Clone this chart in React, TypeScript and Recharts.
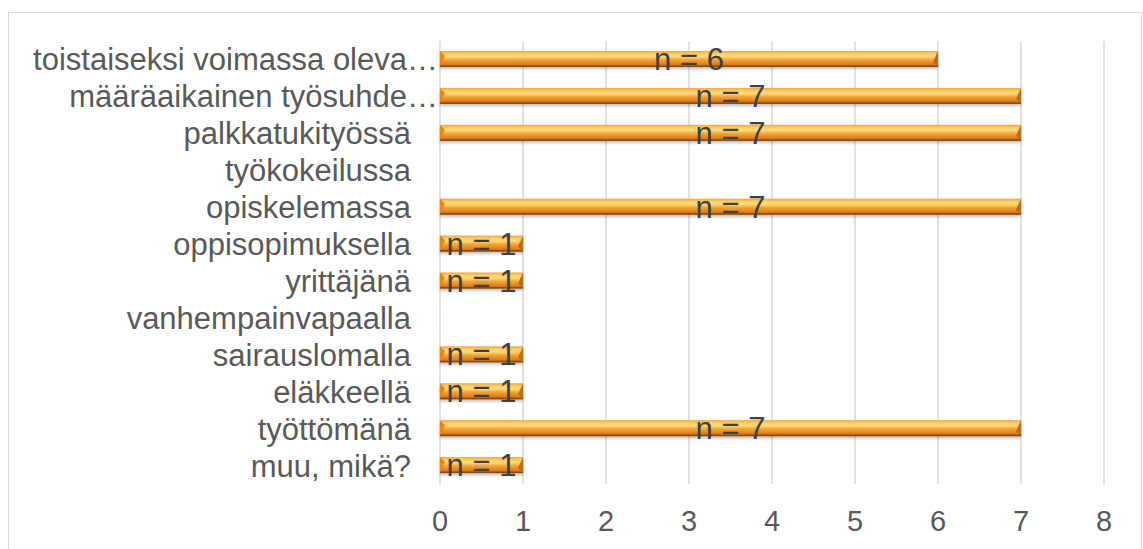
import { BarChart, Bar, XAxis, YAxis, CartesianGrid, LabelList } from 'recharts';

const categories = [
  'toistaiseksi voimassa oleva…',
  'määräaikainen työsuhde…',
  'palkkatukityössä',
  'työkokeilussa',
  'opiskelemassa',
  'oppisopimuksella',
  'yrittäjänä',
  'vanhempainvapaalla',
  'sairauslomalla',
  'eläkkeellä',
  'työttömänä',
  'muu, mikä?',
];
const counts = [6, 7, 7, 0, 7, 1, 1, 0, 1, 1, 7, 1];
const xTicks = [0, 1, 2, 3, 4, 5, 6, 7, 8];

const data = categories.map((name, i) => ({ name, value: counts[i] }));

const FONT = '"Liberation Sans", Arial, sans-serif';
const FS = 31;

function CategoryTick(props: any) {
  const { x, y, payload } = props;
  const label: string = payload.value;
  // excel lets the truncated labels run a bit further right
  const shift = label.endsWith('…') ? 27 : 0;
  return (
    <text
      x={x - 21 + shift}
      y={y}
      dy={11}
      textAnchor="end"
      fontSize={FS}
      fill="#595959"
      fontFamily={FONT}
    >
      {label}
    </text>
  );
}

function BevelBar(props: any) {
  const { x, y, width, height } = props;
  if (!width || width <= 0) return null;
  const b = Math.min(5, width / 4);
  return (
    <g filter="url(#barShadow)">
      <rect x={x} y={y} width={width} height={height} fill="url(#barGrad)" />
      <polygon
        points={`${x},${y} ${x + b},${y + b} ${x},${y + height}`}
        fill="#e8861f"
      />
      <polygon
        points={`${x + width},${y} ${x + width - b},${y + height - b} ${x + width},${y + height}`}
        fill="#c46a16"
      />
      <rect x={x} y={y + height - 1.5} width={width} height={1.5} fill="#8a4a10" />
    </g>
  );
}

export default function App() {
  return (
    <div
      style={{
        position: 'absolute',
        left: 0,
        top: 0,
        width: 1143,
        height: 549,
        background: '#fff',
        overflow: 'hidden',
      }}
    >
      <div
        style={{
          position: 'absolute',
          left: 8,
          top: 12,
          width: 1132,
          height: 560,
          border: '1px solid #d9d9d9',
        }}
      />
      <div style={{ position: 'absolute', left: 0, top: 0 }}>
        <BarChart
          width={1143}
          height={549}
          data={data}
          layout="vertical"
          margin={{ top: 41, right: 39, bottom: 35, left: 0 }}
          barCategoryGap={11}
        >
          <defs>
            <linearGradient id="barGrad" x1="0" y1="0" x2="0" y2="1">
              <stop offset="0%" stopColor="#f5a43a" />
              <stop offset="18%" stopColor="#fbd06a" />
              <stop offset="35%" stopColor="#fdda7a" />
              <stop offset="55%" stopColor="#f2a535" />
              <stop offset="80%" stopColor="#e2821f" />
              <stop offset="100%" stopColor="#b0651a" />
            </linearGradient>
            <filter id="barShadow" x="-5%" y="-40%" width="110%" height="200%">
              <feDropShadow dx="0" dy="2" stdDeviation="1.5" floodColor="#000" floodOpacity="0.25" />
            </filter>
          </defs>
          <CartesianGrid horizontal={false} stroke="#d9d9d9" strokeWidth={1.5} />
          <XAxis
            type="number"
            domain={[0, 8]}
            ticks={xTicks}
            axisLine={false}
            tickLine={false}
            tick={{ fontSize: 29, fill: '#595959', fontFamily: FONT }}
            tickMargin={20}
            interval={0}
          />
          <YAxis
            type="category"
            dataKey="name"
            width={440}
            axisLine={false}
            tickLine={false}
            tick={<CategoryTick />}
            interval={0}
          />
          <Bar dataKey="value" barSize={16} shape={<BevelBar />} isAnimationActive={false}>
            <LabelList
              dataKey="value"
              position="center"
              formatter={(v: any) => (v ? `n = ${v}` : '')}
              style={{ fontSize: FS, fill: '#404040', fontFamily: FONT }}
            />
          </Bar>
        </BarChart>
      </div>
    </div>
  );
}
